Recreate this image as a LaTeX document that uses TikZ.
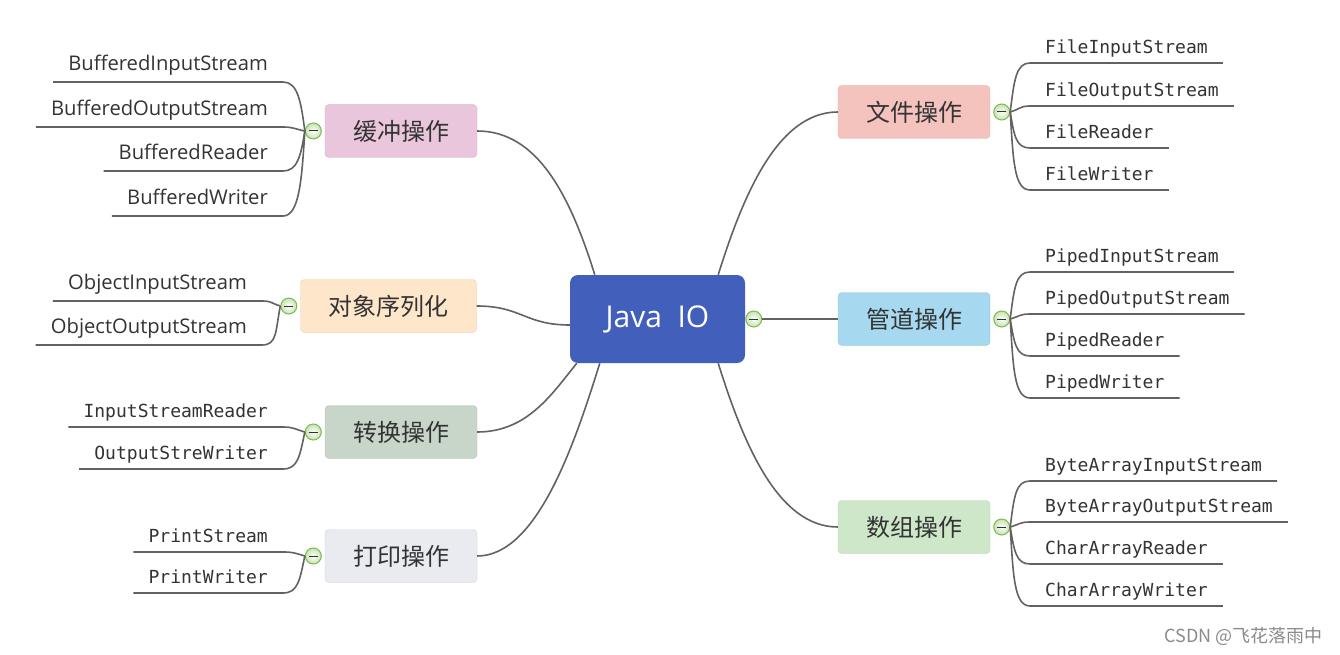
\documentclass[tikz,border=0pt]{standalone}
\usepackage{fontspec}
\usepackage{tikz}
\usetikzlibrary{positioning}
\setmainfont{Noto Sans CJK SC}
\newfontfamily\latinfont{Open Sans}
\newfontfamily\codefont{DejaVu Sans Mono}

\begin{document}
\begin{tikzpicture}[x=1pt, y=-1pt,
  root/.style={rectangle, rounded corners=8pt, fill=colRoot, text=white,
    minimum width=175pt, minimum height=88pt,
    font=\latinfont\fontsize{30}{36}\selectfont},
  topic/.style={rectangle, rounded corners=4pt, fill=#1, draw=#1!90!black,
    line width=0.4pt, minimum height=53pt, inner xsep=28pt, text=colText,
    font=\fontsize{24}{28}\selectfont},
  fold/.style={circle, draw=colFold, line width=1pt, inner color=white,
    outer color=colFoldIn, minimum size=16pt, inner sep=0pt,
    path picture={\draw[colText, line width=1pt]
      ([xshift=-4.5pt]path picture bounding box.center) --
      ([xshift=4.5pt]path picture bounding box.center);}},
  leafL/.style={anchor=south east, inner xsep=15pt, inner ysep=11pt,
    text depth=0pt, text=colText, font=\latinfont\fontsize{20.2}{24}\selectfont},
  codeL/.style={anchor=south east, inner xsep=15pt, inner ysep=9.5pt,
    text depth=0pt, text=colText, font=\codefont\fontsize{18}{22}\selectfont},
  codeR/.style={codeL, anchor=south west},
  link/.style={draw=colLine, line width=1.6pt},
]

% Colori
\definecolor{colRoot}{HTML}{425FBC}
\definecolor{colBuf}{HTML}{E9C6DB}
\definecolor{colObj}{HTML}{FDE6CA}
\definecolor{colConv}{HTML}{C8D6C9}
\definecolor{colPrint}{HTML}{E9EBF1}
\definecolor{colFile}{HTML}{F4C3BE}
\definecolor{colPipe}{HTML}{A6D9EF}
\definecolor{colArr}{HTML}{CDE7C8}
\definecolor{colFold}{HTML}{7DBB4A}
\definecolor{colFoldIn}{HTML}{C6E3B2}
\definecolor{colLine}{HTML}{626262}
\definecolor{colText}{HTML}{333333}
\definecolor{colMark}{HTML}{8A8A8A}

\useasboundingbox (0,0) rectangle (1340,655);

% Nodo centrale
\node[root] (io) at (657.5,319) {Java~~IO};
\node[fold, right=0pt of io] (iof) {};

% Rami a sinistra
\node[topic=colBuf] (hc) at (401,131) {缓冲操作};
\node[topic=colObj] (dx) at (388.5,306) {对象序列化};
\node[topic=colConv] (zh) at (401,432) {转换操作};
\node[topic=colPrint] (dy) at (401,556) {打印操作};
\node[fold, left=3pt of hc] (hcf) {};
\node[fold, left=3pt of dx] (dxf) {};
\node[fold, left=3pt of zh] (zhf) {};
\node[fold, left=3pt of dy] (dyf) {};

% Rami a destra
\node[topic=colFile] (wj) at (914,112) {文件操作};
\node[topic=colPipe] (gd) at (914,319) {管道操作};
\node[topic=colArr] (sz) at (914,527) {数组操作};
\node[fold, right=3pt of wj] (wjf) {};
\node[fold, right=3pt of gd] (gdf) {};
\node[fold, right=3pt of sz] (szf) {};

% Collegamenti dal centro
\draw[link] (hc.east) .. controls +(60,0) and +(-25,-80) .. ([xshift=25pt]io.north west);
\draw[link] (dx.east) .. controls +(45,0) and +(-45,0) .. ([yshift=-6pt]io.west);
\draw[link] (zh.east) .. controls +(50,0) and +(-25,31) .. ([xshift=7pt]io.south west);
\draw[link] (dy.east) .. controls +(60,0) and +(-25,80) .. ([xshift=30pt]io.south west);
\draw[link] (wj.west) .. controls +(-60,0) and +(25,-80) .. ([xshift=-27pt]io.north east);
\draw[link] (iof.east) -- (gd.west);
\draw[link] (sz.west) .. controls +(-60,0) and +(25,80) .. ([xshift=-27pt]io.south east);

% Buffered
\node[leafL] (bis) at (283,82) {BufferedInputStream};
\node[leafL] (bos) at (283,127) {BufferedOutputStream};
\node[leafL] (brd) at (283,171) {BufferedReader};
\node[leafL] (bwr) at (283,216) {BufferedWriter};
\draw[link] (hcf.west) .. controls +(-4,-32) and +(14,0) .. (bis.south east) -- (bis.south west);
\draw[link] (hcf.west) .. controls +(-10,-2) and +(10,0) .. (bos.south east) -- (bos.south west);
\draw[link] (hcf.west) .. controls +(-4,26) and +(14,0) .. (brd.south east) -- (brd.south west);
\draw[link] (hcf.west) .. controls +(-3,50) and +(16,0) .. (bwr.south east) -- (bwr.south west);

% Object
\node[leafL] (ois) at (262,301) {ObjectInputStream};
\node[leafL] (oos) at (262,345) {ObjectOutputStream};
\draw[link] (dxf.west) .. controls +(-10,-3) and +(10,0) .. (ois.south east) -- (ois.south west);
\draw[link] (dxf.west) .. controls +(-5,26) and +(15,0) .. (oos.south east) -- (oos.south west);

% Conversione
\node[codeL] (isr) at (283,427) {InputStreamReader};
\node[codeL] (osw) at (283,469) {OutputStreWriter};
\draw[link] (zhf.west) .. controls +(-10,-3) and +(10,0) .. (isr.south east) -- (isr.south west);
\draw[link] (zhf.west) .. controls +(-5,24) and +(15,0) .. (osw.south east) -- (osw.south west);

% Stampa
\node[codeL] (pst) at (283,552) {PrintStream};
\node[codeL] (pwr) at (283,593) {PrintWriter};
\draw[link] (dyf.west) .. controls +(-10,-3) and +(10,0) .. (pst.south east) -- (pst.south west);
\draw[link] (dyf.west) .. controls +(-5,24) and +(15,0) .. (pwr.south east) -- (pwr.south west);

% File
\node[codeR] (fis) at (1030,63) {FileInputStream};
\node[codeR] (fos) at (1030,106) {FileOutputStream};
\node[codeR] (frd) at (1030,148) {FileReader};
\node[codeR] (fwr) at (1030,190) {FileWriter};
\draw[link] (wjf.east) .. controls +(4,-32) and +(-14,0) .. (fis.south west) -- (fis.south east);
\draw[link] (wjf.east) .. controls +(10,-3) and +(-10,0) .. (fos.south west) -- (fos.south east);
\draw[link] (wjf.east) .. controls +(4,24) and +(-14,0) .. (frd.south west) -- (frd.south east);
\draw[link] (wjf.east) .. controls +(3,48) and +(-16,0) .. (fwr.south west) -- (fwr.south east);

% Pipe
\node[codeR] (pis) at (1030,272) {PipedInputStream};
\node[codeR] (pos) at (1030,314) {PipedOutputStream};
\node[codeR] (prd) at (1030,356) {PipedReader};
\node[codeR] (pwt) at (1030,398) {PipedWriter};
\draw[link] (gdf.east) .. controls +(4,-32) and +(-14,0) .. (pis.south west) -- (pis.south east);
\draw[link] (gdf.east) .. controls +(10,-3) and +(-10,0) .. (pos.south west) -- (pos.south east);
\draw[link] (gdf.east) .. controls +(4,24) and +(-14,0) .. (prd.south west) -- (prd.south east);
\draw[link] (gdf.east) .. controls +(3,48) and +(-16,0) .. (pwt.south west) -- (pwt.south east);

% Array
\node[codeR] (bais) at (1030,481) {ByteArrayInputStream};
\node[codeR] (baos) at (1030,522) {ByteArrayOutputStream};
\node[codeR] (crd) at (1030,564) {CharArrayReader};
\node[codeR] (cwr) at (1030,606) {CharArrayWriter};
\draw[link] (szf.east) .. controls +(4,-32) and +(-14,0) .. (bais.south west) -- (bais.south east);
\draw[link] (szf.east) .. controls +(10,-3) and +(-10,0) .. (baos.south west) -- (baos.south east);
\draw[link] (szf.east) .. controls +(4,24) and +(-14,0) .. (crd.south west) -- (crd.south east);
\draw[link] (szf.east) .. controls +(3,48) and +(-16,0) .. (cwr.south west) -- (cwr.south east);

% Filigrana
\node[anchor=east, text=colMark, font=\fontsize{18}{22}\selectfont] (mark) at (1326,636) {CSDN @飞花落雨中};

\end{tikzpicture}
\end{document}
